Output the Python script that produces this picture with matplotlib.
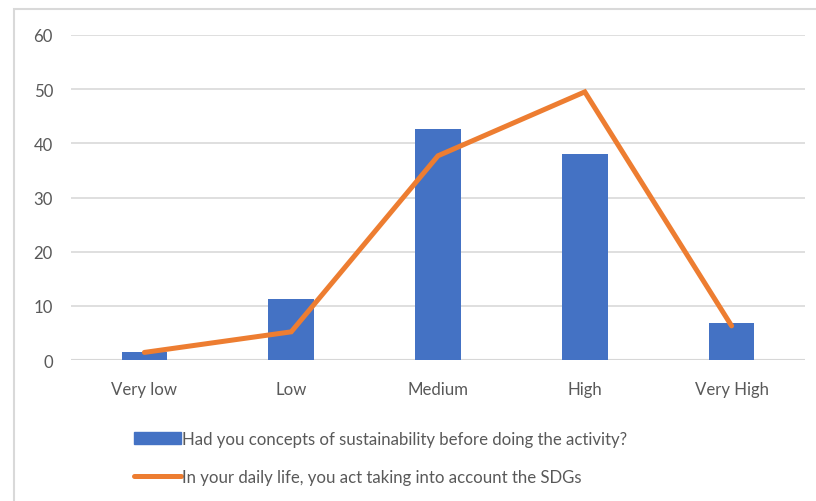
import matplotlib.pyplot as plt
from matplotlib.patches import Rectangle
from matplotlib.lines import Line2D

categories = ["Very low", "Low", "Medium", "High", "Very High"]
concepts_before = [1.4, 11.3, 42.7, 38.0, 6.8]
act_with_sdgs = [1.4, 5.2, 37.7, 49.5, 6.3]
bar_label = "Had you concepts of sustainability before doing the activity?"
line_label = "In your daily life, you act taking into account the SDGs"

plt.rcParams['font.family'] = ['Lato', 'DejaVu Sans']
text_gray = '#595959'
fs = 12.1

fig = plt.figure(figsize=(8.16, 5.02), dpi=100)
ax = fig.add_axes([71/816, 1 - 361/502, 734/816, 325/502])

x = list(range(len(categories)))
bars = ax.bar(x, concepts_before, width=0.31, color='#4472C4', zorder=2)
line, = ax.plot(x, act_with_sdgs, color='#ED7D31', linewidth=3.6,
                solid_capstyle='round', solid_joinstyle='miter', zorder=3)

ax.set_xlim(-0.5, 4.5)
ax.set_ylim(0, 60)
ax.set_yticks(range(0, 61, 10))
ax.set_xticks(x)
ax.set_xticklabels(categories)
ax.yaxis.grid(True, color='#D9D9D9', linewidth=1.2, zorder=0)
ax.axhline(0, color='#D0D0D0', linewidth=1.5, zorder=1)
for s in ax.spines.values():
    s.set_visible(False)
ax.tick_params(length=0, labelsize=fs, labelcolor=text_gray)
ax.tick_params(axis='y', pad=13)
ax.tick_params(axis='x', pad=15)

# legend, one entry per row
handles = [Rectangle((0, 0), 1, 1, color='#4472C4'),
           Line2D([0], [0], color='#ED7D31', linewidth=3.6, solid_capstyle='round')]
fig.legend(handles, [bar_label, line_label], loc='upper left',
           bbox_to_anchor=(119/816, 1 - 417/502), frameon=False,
           fontsize=fs, labelcolor=text_gray, handlelength=2.8,
           handleheight=0.75, handletextpad=0.05, labelspacing=1.3)

# chart area border
fig.add_artist(Rectangle((14/816, -0.1), 1.0, 1.1 - 10/502, transform=fig.transFigure,
                         fill=False, edgecolor='#D9D9D9', linewidth=1.5))

fig.savefig('out.png', dpi=100, facecolor='white')
